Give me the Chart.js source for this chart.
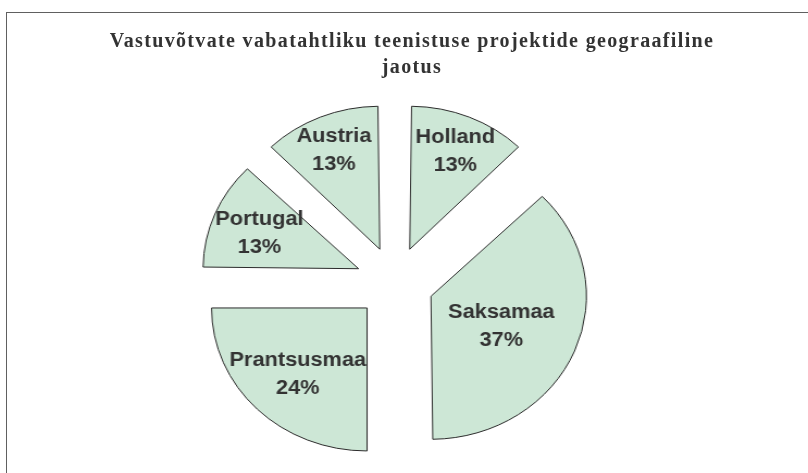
<!DOCTYPE html>
<html>
<head>
<meta charset="utf-8">
<script src="https://cdn.jsdelivr.net/npm/chart.js@4.4.0/dist/chart.umd.min.js"></script>
<style>
  html, body { margin:0; padding:0; background:#fff; overflow:hidden; }
  #wrap { position:relative; width:808px; height:473px; overflow:hidden; }
  #frame { position:absolute; left:6px; top:12px; width:900px; height:600px; border:1px solid #606060; }
  #title { position:absolute; left:8px; top:27px; width:808px; text-align:center;
           font-family:"Liberation Serif", serif; font-weight:bold; font-size:20px;
           line-height:26px; letter-spacing:1.35px; color:#333; }
  #c { position:absolute; left:0; top:0; width:808px; height:473px; }
</style>
</head>
<body>
<div id="wrap">
  <div id="frame"></div>
  <canvas id="c" width="743" height="473" style="width:808px;height:473px"></canvas>
  <div id="title">Vastuvõtvate vabatahtliku teenistuse projektide geograafiline<br>jaotus</div>
</div>
<script>
// andmed
var riigid=['Holland','Saksamaa','Prantsusmaa','Portugal','Austria'];
var projektid=[1,3,2,1,1];
var protsendid=['13%','37%','24%','13%','13%'];

// välimus
var pieRadius=143;
var explode=144;
var labelPos=[0.765,0.49,0.63,0.69,0.77];

// Chart.js teeb eraldatud sektori raadiuse suuremaks, siin võetakse see tagasi
var keepRadius={
  id:'keepRadius',
  beforeDatasetsDraw:function(chart){
    chart.getDatasetMeta(0).data.forEach(function(arc){
      var off=arc.options.offset/4;
      var fix=1-Math.sin(Math.min(Math.PI,arc.circumference));
      arc.outerRadius=pieRadius-off*fix;
    });
  }
};

var sliceLabels={
  id:'sliceLabels',
  afterDatasetsDraw:function(chart){
    var ctx=chart.ctx;
    ctx.save();
    ctx.font='bold 20px "Liberation Sans", Arial, sans-serif';
    ctx.fillStyle='#333';
    ctx.textAlign='center';
    ctx.textBaseline='middle';
    chart.getDatasetMeta(0).data.forEach(function(arc,i){
      var mid=(arc.startAngle+arc.endAngle)/2;
      var r=arc.options.offset/4+pieRadius*labelPos[i];
      var px=arc.x+Math.cos(mid)*r;
      var py=arc.y+Math.sin(mid)*r+3;
      ctx.fillText(riigid[i],px,py-14);
      ctx.fillText(protsendid[i],px,py+14);
    });
    ctx.restore();
  }
};

var ctx=document.getElementById('c');
var myChart=new Chart(ctx,{
  type:'pie',
  data:{
    labels:riigid,
    datasets:[{
      data:projektid,
      backgroundColor:'#cde7d6',
      borderColor:'#2b2b2b',
      borderWidth:1,
      offset:explode
    }]
  },
  options:{
    responsive:false,
    devicePixelRatio:1,
    animation:false,
    events:[],
    radius:pieRadius,
    layout:{padding:{left:0,right:17,top:92,bottom:0}},
    plugins:{
      legend:{display:false},
      tooltip:{enabled:false},
      title:{display:false}
    }
  },
  plugins:[keepRadius,sliceLabels]
});
</script>
</body>
</html>
